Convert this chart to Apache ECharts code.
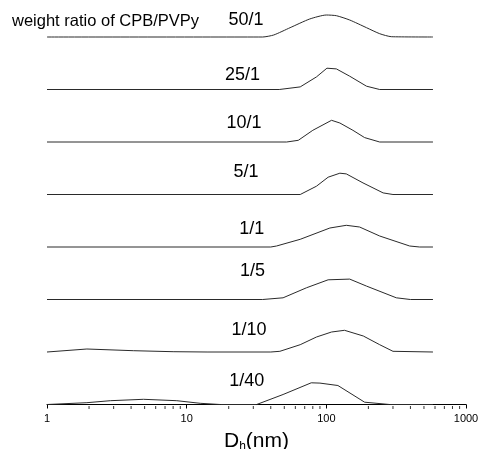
<!DOCTYPE html>
<html>
<head>
<meta charset="utf-8">
<script src="https://cdn.jsdelivr.net/npm/echarts@6/dist/echarts.min.js"></script>
<style>
  html, body { margin: 0; padding: 0; background: #fff; }
  #chart { width: 479px; height: 449px; }
</style>
</head>
<body>
<div id="chart"></div>
<script>
// === Данные: [Dh (nm), интенсивность]
const RATIO_LABELS = ['50/1', '25/1', '10/1', '5/1', '1/1', '1/5', '1/10', '1/40'];

const DIST_50_1 = [[1, 0], [35, 0], [42, 2], [55, 9.3], [76, 18], [100, 22], [118, 21.3], [147, 17], [194, 9.3], [241, 3.3], [292, 0.3], [580, 0]];
const DIST_25_1 = [[1, 0], [46, 0], [65, 2.6], [85, 12.6], [101, 21.3], [118, 20.6], [147, 13.3], [194, 3.3], [241, 0], [580, 0]];
const DIST_10_1 = [[1, 0], [52, 0], [63, 1.7], [80, 11.7], [109, 21.7], [125, 19], [155, 11.7], [188, 4.4], [241, 0], [580, 0]];
const DIST_5_1 = [[1, 0], [65, 0], [85, 8.3], [103, 17.3], [125, 21.3], [139, 20.6], [183, 11.6], [255, 1.6], [300, 0], [580, 0]];
const DIST_1_1 = [[1, 0], [40, 0], [44, 1], [65, 7.7], [106, 19], [139, 21.7], [173, 20], [241, 11], [395, 1], [466, 0], [580, 0]];
const DIST_1_5 = [[1, 0], [35, 0], [49, 1.7], [72, 11.7], [103, 19.7], [147, 20.4], [194, 13.4], [317, 1.7], [400, 0], [580, 0]];
const DIST_1_10 = [[1, 0], [1.93, 3], [4.15, 1.3], [8, 0.3], [14, 0], [40, 0], [46.5, 0.7], [65, 7.3], [85, 15], [109, 20], [135, 21.7], [184, 16], [241, 7.3], [300, 0.7], [580, 0]];
const DIST_1_40 = [[1, 0], [1.93, 1.8], [2.84, 3.8], [4.91, 5.2], [8.5, 3.8], [12.5, 1.2], [17.4, 0], [31.7, 0], [49, 10], [78, 21.7], [90, 21.4], [121, 19], [188, 2.3], [284, 0], [580, 0]];

const DISTRIBUTIONS = [DIST_50_1, DIST_25_1, DIST_10_1, DIST_5_1, DIST_1_1, DIST_1_5, DIST_1_10, DIST_1_40];

const X_MAJOR_TICKS = [1, 10, 100, 1000];
const X_MINOR_TICKS = [2, 3, 4, 5, 6, 7, 8, 9, 20, 30, 40, 50, 60, 70, 80, 90, 200, 300, 400, 500, 600, 700, 800, 900];

// === Оформление
const FONT = '"Liberation Sans", Arial, sans-serif';
const STEP = 52.5;      // вертикальный сдвиг между кривыми
const Y_MIN = -1.5;
const Y_MAX = 404.5;
// позиции подписей (центр) в пикселях
const LABEL_POS = [[246, 20.5], [242.5, 75], [244, 123], [246, 172], [251.7, 229], [252.5, 271], [249, 330], [246.7, 381]];

const chart = echarts.init(document.getElementById('chart'));

// сдвигаем каждую кривую вверх на свой уровень
const curveSeries = DISTRIBUTIONS.map((dist, i) => {
    const offset = (DISTRIBUTIONS.length - 1 - i) * STEP;
    return {
        name: RATIO_LABELS[i],
        type: 'line',
        data: dist.map(p => [p[0], p[1] + offset]),
        showSymbol: false,
        smooth: i === 0 ? 0.2 : false,
        lineStyle: { color: '#2a2a2a', width: 1 },
        silent: true,
        z: 3
    };
});

// малые деления логарифмической оси
const minorTickSeries = {
    type: 'scatter',
    data: X_MINOR_TICKS.map(v => [v, Y_MIN]),
    symbol: 'rect',
    symbolSize: [1, 3],
    symbolOffset: [0, 1.5],
    itemStyle: { color: '#000' },
    clip: false,
    silent: true,
    z: 4
};

const labelGraphics = RATIO_LABELS.map((text, i) => ({
    type: 'text',
    x: LABEL_POS[i][0],
    y: LABEL_POS[i][1],
    style: {
        text: text,
        font: '18px ' + FONT,
        fill: '#000',
        align: 'center',
        verticalAlign: 'middle'
    }
}));

chart.setOption({
    animation: false,
    backgroundColor: '#fff',
    grid: { left: 47, right: 13, top: 0, bottom: 43, outerBoundsMode: 'none', containLabel: false },
    xAxis: {
        type: 'log',
        logBase: 10,
        min: 1,
        max: 1000,
        name: '{d|D}{s|h}{d|(nm)}',
        nameLocation: 'middle',
        nameGap: 23,
        nameTextStyle: {
            rich: {
                d: { fontSize: 21, fontFamily: FONT, color: '#000', lineHeight: 24 },
                s: { fontSize: 12, fontFamily: FONT, color: '#000', lineHeight: 10, verticalAlign: 'bottom' }
            }
        },
        axisLine: { show: true, lineStyle: { color: '#000', width: 1 } },
        axisTick: { show: true, inside: false, length: 4, lineStyle: { color: '#000' } },
        axisLabel: {
            fontSize: 11,
            fontFamily: FONT,
            color: '#000',
            margin: 7,
            formatter: v => X_MAJOR_TICKS.includes(Math.round(v)) ? String(Math.round(v)) : ''
        },
        splitLine: { show: false }
    },
    yAxis: {
        type: 'value',
        min: Y_MIN,
        max: Y_MAX,
        show: false
    },
    series: curveSeries.concat([minorTickSeries]),
    graphic: [{
        type: 'text',
        x: 12,
        y: 21,
        style: {
            text: 'weight ratio of CPB/PVPy',
            font: '16.5px ' + FONT,
            fill: '#000',
            align: 'left',
            verticalAlign: 'middle'
        }
    }].concat(labelGraphics)
});
</script>
</body>
</html>
